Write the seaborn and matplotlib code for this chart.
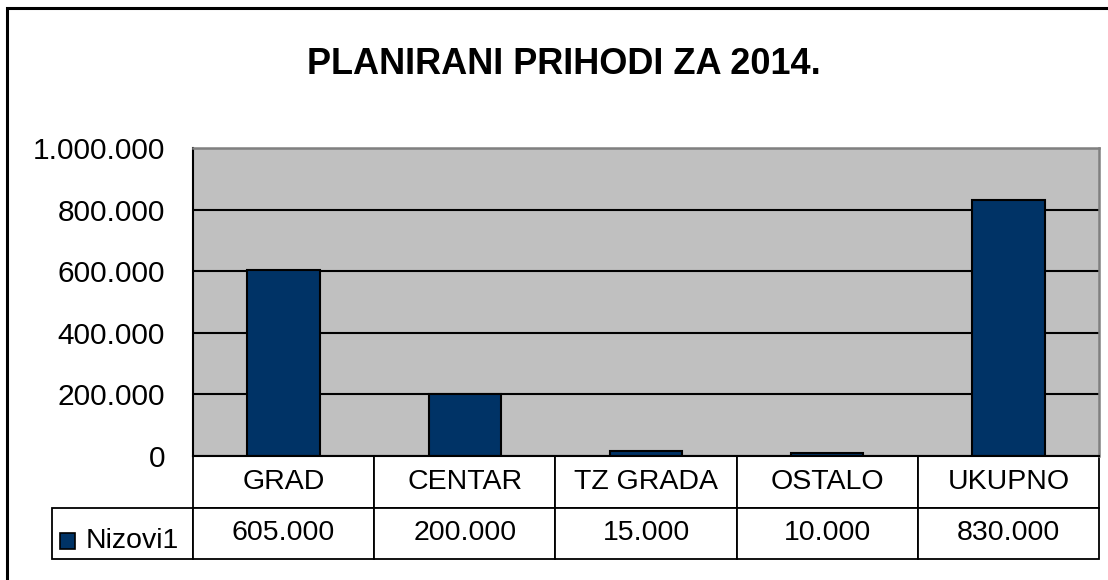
import matplotlib
matplotlib.use("Agg")
import matplotlib.pyplot as plt
from matplotlib.patches import Rectangle
from matplotlib.ticker import FuncFormatter, MultipleLocator
import seaborn as sns

categories = ["GRAD", "CENTAR", "TZ GRADA", "OSTALO", "UKUPNO"]
values = [605000, 200000, 15000, 10000, 830000]
series_name = "Nizovi1"
title = "PLANIRANI PRIHODI ZA 2014."

sns.set_style("white")
plt.rcParams["font.family"] = ["Liberation Sans", "DejaVu Sans"]
plt.rcParams["text.color"] = "black"
plt.rcParams["ytick.color"] = "black"

W, H = 1108, 580
fig = plt.figure(figsize=(W / 100, H / 100), dpi=100)

# plot area in pixel terms: x 193..1099, y 148..456
ax = fig.add_axes([193 / W, 1 - 456 / H, 906 / W, 308 / H])
ax.set_facecolor("#C0C0C0")

sns.barplot(x=categories, y=values, color="#003366", edgecolor="black",
            linewidth=1.5, width=0.4, saturation=1, ax=ax)

ax.set_ylim(0, 1000000)
ax.yaxis.set_major_locator(MultipleLocator(200000))
ax.yaxis.set_major_formatter(FuncFormatter(lambda v, p: f"{v:,.0f}".replace(",", ".")))
ax.yaxis.grid(True, color="black", linewidth=1.5)
ax.set_axisbelow(True)
ax.tick_params(axis="y", length=10, width=1.5, pad=10, labelsize=21.5,
               colors="black", labelcolor="black")
ax.tick_params(axis="x", bottom=False, labelbottom=False)
ax.set_xlabel("")
ax.set_ylabel("")

ax.spines["left"].set_color("black")
ax.spines["left"].set_linewidth(1.5)
ax.spines["bottom"].set_color("black")
ax.spines["bottom"].set_linewidth(1.5)
for s in ["top", "right"]:
    ax.spines[s].set_color("#808080")
    ax.spines[s].set_linewidth(1.8)

# data table under the chart
cell_text = [[""] + [f"{v:,.0f}".replace(",", ".") for v in values]]
col_w = [141 / 1047] + [181.2 / 1047] * len(categories)
tbl = ax.table(cellText=cell_text, colLabels=[""] + categories,
               cellLoc="center", colWidths=col_w,
               bbox=[-141 / 906, -103 / 308, 1047 / 906, 103 / 308])
tbl.auto_set_font_size(False)
tbl.set_fontsize(20.5)
for (r, c), cell in tbl.get_celld().items():
    cell.set_linewidth(1.3)
    cell.set_edgecolor("black")
    cell.set_facecolor("white")
    cell.get_text().set_color("black")
tbl[0, 0].visible_edges = ""
tbl[0, 0].set_facecolor("none")

# legend key + series name in the row label cell
fig.patches.append(Rectangle((60 / W, 1 - 549 / H), 15 / W, 16 / H,
                             transform=fig.transFigure, facecolor="#003366",
                             edgecolor="black", linewidth=1.2))
fig.text(86 / W, 1 - 541 / H, series_name, fontsize=20.5, va="center",
         ha="left", color="black")

fig.text(564 / W, 1 - 65 / H, title, fontsize=26, fontweight="bold",
         ha="center", va="center", color="black")

# outer chart border
fig.patches.append(Rectangle((7 / W, -0.1), 1.2, (H - 8) / H + 0.1,
                             transform=fig.transFigure, facecolor="none",
                             edgecolor="black", linewidth=2.2))

fig.savefig("out.png", dpi=100)
